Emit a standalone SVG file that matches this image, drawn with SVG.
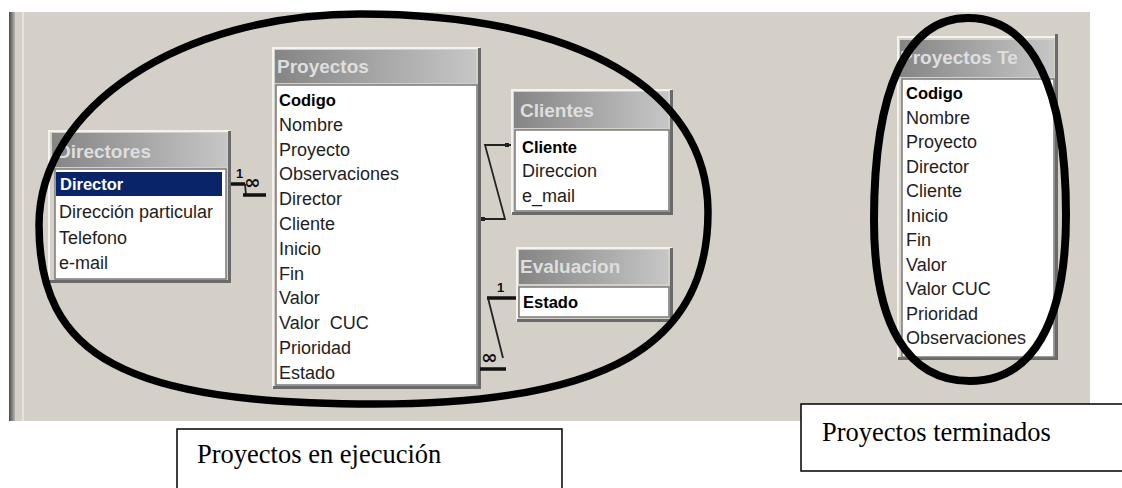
<svg xmlns="http://www.w3.org/2000/svg" width="1122" height="488" viewBox="0 0 1122 488">
<defs>
<linearGradient id="tg" x1="0" y1="0" x2="1" y2="0">
<stop offset="0" stop-color="#858585"/><stop offset="1" stop-color="#c6c6c6"/>
</linearGradient>
<linearGradient id="edge" x1="0" y1="0" x2="1" y2="0">
<stop offset="0" stop-color="#4a4a4a"/><stop offset="1" stop-color="#b8b5ae"/>
</linearGradient>
<clipPath id="cr"><rect x="899" y="38" width="156" height="320"/></clipPath>
</defs>
<style>
.f{font-family:"Liberation Sans",Arial,sans-serif;font-size:18px;fill:#1e1e1e}
.b{font-weight:bold;font-size:16.5px;fill:#000}
.sel{fill:#fff}
.t{font-family:"Liberation Sans",Arial,sans-serif;font-weight:bold;font-size:19px;fill:#dedede}
.win{fill:#d4d0c8}
.hl{fill:none;stroke:#f4f2ee;stroke-width:2}
.sh{fill:none;stroke:#6a6a6a;stroke-width:3}
.list{fill:#fff;stroke:#7a7a7a;stroke-width:1.5}
.bar{fill:url(#tg)}
.thin{fill:none;stroke:#222;stroke-width:1.8}
.thick{fill:none;stroke:#111;stroke-width:3.5}
.card{font-family:"Liberation Sans",Arial,sans-serif;font-weight:bold;font-size:13px;fill:#111}
.inf{font-family:"DejaVu Sans",sans-serif;font-weight:bold;font-size:20px;fill:#111}
.dot{fill:#222}
.ell{fill:none;stroke:#000;stroke-width:7.5}
.cap{fill:#fff;stroke:#000;stroke-width:1.5}
.capt{font-family:"Liberation Serif","Times New Roman",serif;font-size:26.5px;fill:#000}
</style>
<rect width="1122" height="488" fill="#fff"/>
<rect x="9" y="12" width="1081" height="409" fill="#d4d0c8"/>
<rect x="9" y="12" width="6" height="409" fill="url(#edge)"/>
<line x1="23" y1="12" x2="23" y2="421" stroke="#e6e3dd" stroke-width="2"/>

<g id="directores">
<rect class="win" x="48" y="130" width="183" height="153"/>
<polyline class="hl" points="49,282 49,131 230,131"/>
<polyline class="sh" points="229.5,131 229.5,281.5 49,281.5"/>
<rect class="bar" x="52" y="133" width="175" height="34"/>
<text class="t" x="57" y="158">Directores</text>
<rect class="list" x="55" y="169" width="171" height="110"/>
<rect x="56" y="172" width="166" height="24" fill="#0a246a"/>
<text class="f b sel" x="60" y="190">Director</text>
<text class="f" x="59" y="218">Dirección particular</text>
<text class="f" x="59" y="244">Telefono</text>
<text class="f" x="59" y="269">e-mail</text>
</g>

<g id="proyectos">
<rect class="win" x="272" y="47" width="209" height="342"/>
<polyline class="hl" points="273,388 273,48 480,48"/>
<polyline class="sh" points="479.5,48 479.5,387.5 273,387.5"/>
<rect class="bar" x="275" y="50" width="201" height="33"/>
<text class="t" x="277" y="73">Proyectos</text>
<rect class="list" x="276" y="85" width="201" height="300"/>
<text class="f b" x="279" y="106">Codigo</text>
<text class="f" x="279" y="130.8">Nombre</text>
<text class="f" x="279" y="155.6">Proyecto</text>
<text class="f" x="279" y="180.4">Observaciones</text>
<text class="f" x="279" y="205.2">Director</text>
<text class="f" x="279" y="230">Cliente</text>
<text class="f" x="279" y="254.8">Inicio</text>
<text class="f" x="279" y="279.6">Fin</text>
<text class="f" x="279" y="304.4">Valor</text>
<text class="f" x="279" y="329.2" style="white-space:pre">Valor  CUC</text>
<text class="f" x="279" y="354">Prioridad</text>
<text class="f" x="279" y="378.8">Estado</text>
</g>

<g id="clientes">
<rect class="win" x="511" y="89" width="162" height="126"/>
<polyline class="hl" points="512,214 512,90 672,90"/>
<polyline class="sh" points="671.5,90 671.5,213.5 512,213.5"/>
<rect class="bar" x="514" y="92" width="154" height="36"/>
<text class="t" x="520" y="117">Clientes</text>
<rect class="list" x="515" y="130" width="154" height="81"/>
<text class="f b" x="522" y="153">Cliente</text>
<text class="f" x="522" y="177">Direccion</text>
<text class="f" x="522" y="202">e_mail</text>
</g>

<g id="evaluacion">
<rect class="win" x="516" y="247" width="157" height="75"/>
<polyline class="hl" points="517,321 517,248 672,248"/>
<polyline class="sh" points="671.5,248 671.5,320.5 517,320.5"/>
<rect class="bar" x="519" y="250" width="149" height="34"/>
<text class="t" x="520" y="273">Evaluacion</text>
<rect class="list" x="519" y="287" width="150" height="30"/>
<text class="f b" x="523" y="308">Estado</text>
</g>

<g id="proyectos-terminados">
<rect class="win" x="897" y="36" width="161" height="324"/>
<polyline class="hl" points="898,359 898,37 1057,37"/>
<polyline class="sh" points="1056.5,34 1056.5,358.5 898,358.5"/>
<rect class="bar" x="900" y="40" width="154" height="37"/>
<g clip-path="url(#cr)">
<text class="t" x="900" y="64">Proyectos Te</text>
</g>
<rect class="list" x="902" y="79" width="152" height="278"/>
<text class="f b" x="906" y="99">Codigo</text>
<text class="f" x="906" y="123.5">Nombre</text>
<text class="f" x="906" y="148">Proyecto</text>
<text class="f" x="906" y="172.5">Director</text>
<text class="f" x="906" y="197">Cliente</text>
<text class="f" x="906" y="221.5">Inicio</text>
<text class="f" x="906" y="246">Fin</text>
<text class="f" x="906" y="270.5">Valor</text>
<text class="f" x="906" y="295">Valor CUC</text>
<text class="f" x="906" y="319.5">Prioridad</text>
<text class="f" x="906" y="344">Observaciones</text>
</g>

<g id="connectors">
<line class="thick" x1="231" y1="184" x2="245" y2="184"/>
<text class="card" x="236" y="178">1</text>
<line class="thin" x1="245" y1="184" x2="246" y2="195"/>
<text class="inf" x="244" y="189">∞</text>
<line class="thick" x1="243" y1="195" x2="266" y2="195"/>

<polyline class="thin" points="511,145 485,145 505,219 481,219"/>
<rect class="dot" x="505" y="143" width="4" height="4"/>
<rect class="dot" x="481" y="217" width="4" height="4"/>

<line class="thick" x1="487" y1="298" x2="516" y2="298"/>
<text class="card" x="497" y="292">1</text>
<line class="thin" x1="488" y1="298" x2="503" y2="358"/>
<text class="inf" x="481" y="364">∞</text>
<line class="thick" x1="480" y1="369" x2="506" y2="369"/>
</g>

<g id="highlights">
<path class="ell" d="M39,225 C39,107.4 180.2,14 360,14 C578.2,14 708,89.9 708,212 C708,344.5 607.5,404 375,404 C126,404 39,357 39,225 Z"/>
<path class="ell" style="stroke-width:8" d="M874,220 C874,88.7 906.9,18 968,18 C1031.7,18 1066,87 1066,215 C1066,322.9 1032.4,381 970,381 C907.6,381 874,324.7 874,220 Z"/>
</g>

<g id="caption-ejecucion">
<rect class="cap" x="177" y="429" width="385" height="80"/>
<text class="capt" x="197" y="463">Proyectos en ejecución</text>
</g>
<g id="caption-terminados">
<rect class="cap" x="801" y="404" width="340" height="67"/>
<text class="capt" x="822" y="441">Proyectos terminados</text>
</g>
</svg>
